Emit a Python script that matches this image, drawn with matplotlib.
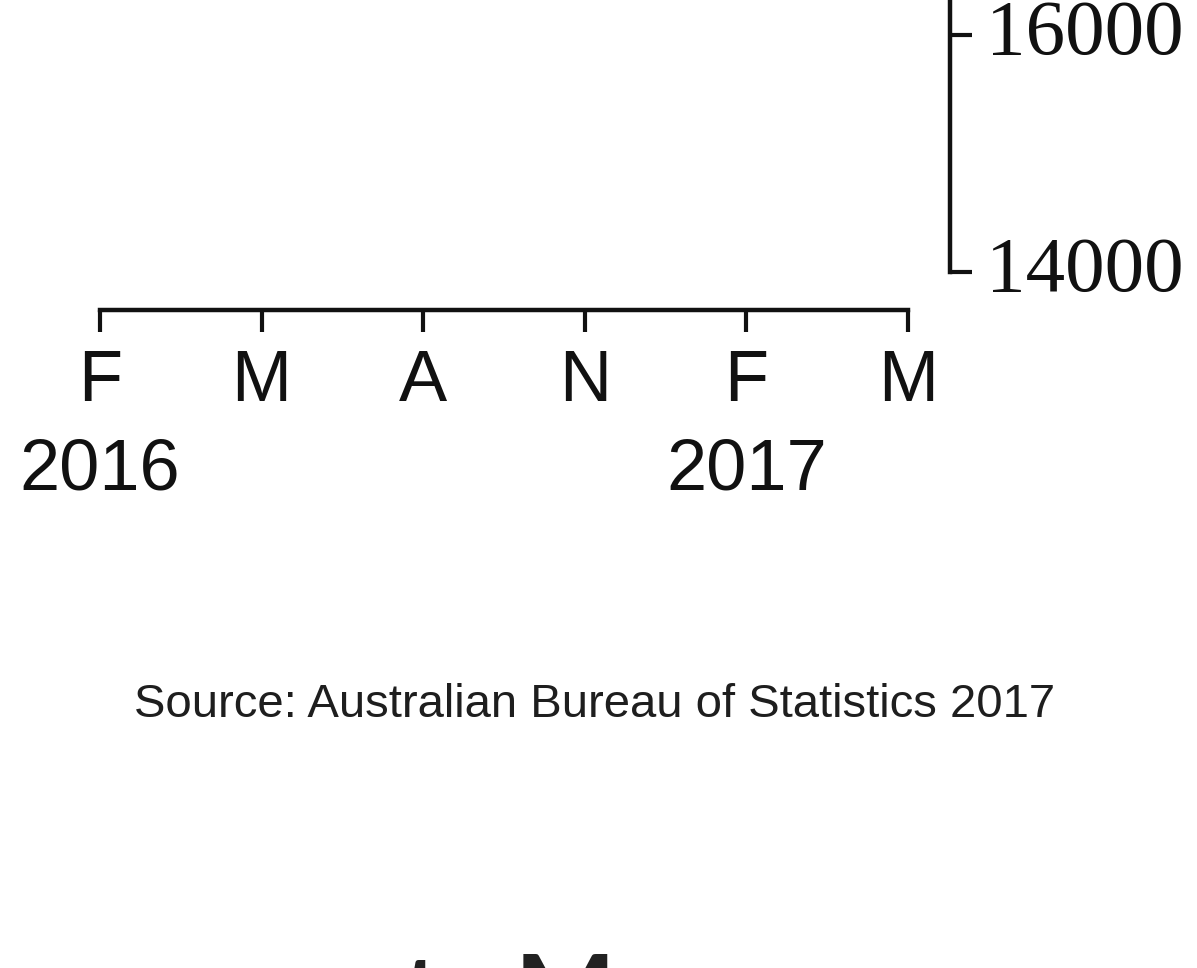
import numpy as np
import matplotlib
matplotlib.use("Agg")
import matplotlib.pyplot as plt
import matplotlib.transforms as mtransforms

# months since Feb 2016, labelled quarterly
tick_months = [0, 3, 6, 9, 12, 15]
tick_labels = ["F", "M", "A", "N", "F", "M"]
year_months = [0, 12]
year_labels = ["2016", "2017"]
y_ticks = [14000, 16000, 18000]
y_tick_labels = ["14000", "16000", "18000"]

source_text = "Source: Australian Bureau of Statistics 2017"
next_heading = "ts Move"

W, H = 1197, 968
fig = plt.figure(figsize=(W / 100, H / 100), dpi=100)
fig.patch.set_facecolor("white")

# axes box in pixels (top extends above the figure, like the cropped original)
left_px, right_px, bottom_px, top_px = 70, 933, 290, -300
ax = fig.add_axes([left_px / W, 1 - bottom_px / H,
                   (right_px - left_px) / W, (bottom_px - top_px) / H])
ax.set_facecolor("none")

px_per_month = (908 - 100) / 15
ax.set_xlim((left_px - 100) / px_per_month, (right_px - 100) / px_per_month)
px_per_unit = (272 - 35) / 2000
ax.set_ylim(14000 - (bottom_px - 272) / px_per_unit,
            16000 + (35 - top_px) / px_per_unit)

ax.spines["left"].set_visible(False)
ax.spines["top"].set_visible(False)
ax.spines["bottom"].set_position(("outward", 14.4))
ax.spines["right"].set_position(("outward", 12.5))
ax.spines["bottom"].set_bounds(tick_months[0], tick_months[-1])
ax.spines["right"].set_bounds(y_ticks[0], y_ticks[-1])
for s in ("bottom", "right"):
    ax.spines[s].set_linewidth(3.2)
    ax.spines[s].set_color("#111111")

ax.yaxis.tick_right()
ax.set_xticks(tick_months)
ax.set_xticklabels(tick_labels, fontfamily="Liberation Sans", fontsize=52,
                   color="#111111")
ax.set_yticks(y_ticks)
ax.set_yticklabels(y_tick_labels, fontfamily="Liberation Serif", fontsize=57,
                   color="#111111")
ax.tick_params(axis="x", length=16, width=3, pad=12, color="#111111")
ax.tick_params(axis="y", length=16, width=3, pad=10, color="#111111")

# raise the y labels a little above their ticks, as in the original
lift = mtransforms.ScaledTranslation(0, 0.08, fig.dpi_scale_trans)
for lab in ax.get_yticklabels():
    lab.set_transform(lab.get_transform() + lift)

# year labels under the February ticks
offs = mtransforms.ScaledTranslation(0, -1.47, fig.dpi_scale_trans)
for m, yr in zip(year_months, year_labels):
    ax.text(m, 0, yr, transform=ax.get_xaxis_transform() + offs,
            ha="center", va="top", fontfamily="Liberation Sans",
            fontsize=52, color="#111111", clip_on=False)

fig.text(595 / W, 1 - 717 / H, source_text, ha="center", va="baseline",
         fontfamily="Liberation Sans", fontsize=34, color="#1e1e1e")

# heading of the next slide, mostly cut off by the bottom edge
fig.text(402 / W, 1 - 1032 / H, next_heading, ha="left", va="baseline",
         fontfamily="Lato", fontweight="bold", fontsize=77,
         color="#222222")

fig.savefig("out.png", dpi=100, facecolor="white")
